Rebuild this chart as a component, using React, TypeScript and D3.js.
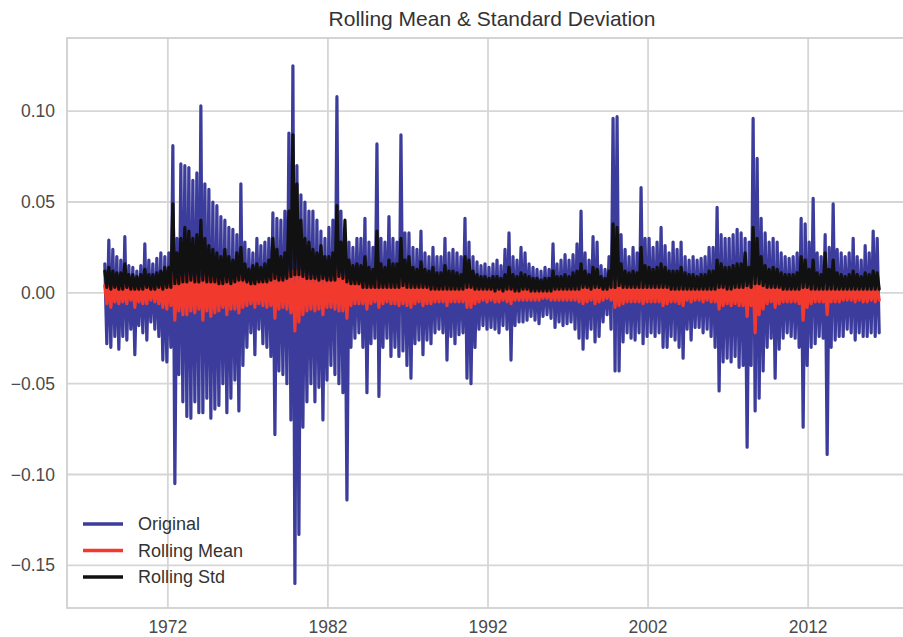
import React from "react";
import * as d3 from "d3";

// quarterly buckets starting 1968 Q1; each row = one year (Q1..Q4)
const startYear = 1968;
const xTicks = [1972, 1982, 1992, 2002, 2012];
const yTicks = [-0.15, -0.1, -0.05, 0, 0.05, 0.1];

// Original series: highest / lowest value seen in each quarter
const origHigh = [
  0.016, 0.029, 0.024, 0.02, // 1968
  0.018, 0.031, 0.015, 0.014,
  0.012, 0.015, 0.027, 0.018, // 1970
  0.016, 0.019, 0.022, 0.02,
  0.022, 0.081, 0.03, 0.071,
  0.07, 0.069, 0.062, 0.066,
  0.103, 0.06, 0.057, 0.05,
  0.048, 0.042, 0.04, 0.036,
  0.035, 0.032, 0.06, 0.028,
  0.024, 0.022, 0.03, 0.026,
  0.028, 0.03, 0.044, 0.041,
  0.04, 0.045, 0.088, 0.125,
  0.07, 0.054, 0.05, 0.045, // 1980
  0.045, 0.04, 0.034, 0.03,
  0.036, 0.04, 0.108, 0.045,
  0.03, 0.028, 0.025, 0.03,
  0.03, 0.041, 0.028, 0.025,
  0.082, 0.03, 0.028, 0.042,
  0.03, 0.028, 0.087, 0.033,
  0.033, 0.025, 0.024, 0.034,
  0.022, 0.02, 0.025, 0.02,
  0.02, 0.03, 0.022, 0.024,
  0.022, 0.02, 0.041, 0.028, // 1990
  0.02, 0.017, 0.015, 0.016,
  0.014, 0.016, 0.018, 0.015,
  0.024, 0.033, 0.02, 0.018,
  0.025, 0.022, 0.016, 0.014,
  0.013, 0.012, 0.014, 0.013,
  0.027, 0.016, 0.018, 0.021,
  0.018, 0.021, 0.027, 0.045,
  0.022, 0.018, 0.031, 0.028,
  0.015, 0.013, 0.02, 0.096,
  0.097, 0.032, 0.024, 0.02, // 2000
  0.025, 0.022, 0.058, 0.03,
  0.03, 0.025, 0.028, 0.036,
  0.026, 0.022, 0.028, 0.024,
  0.028, 0.02, 0.018, 0.02,
  0.018, 0.019, 0.02, 0.025,
  0.025, 0.047, 0.032, 0.03,
  0.03, 0.032, 0.035, 0.033,
  0.03, 0.028, 0.096, 0.074,
  0.041, 0.033, 0.028, 0.03,
  0.028, 0.022, 0.02, 0.019, // 2010
  0.02, 0.022, 0.041, 0.038,
  0.028, 0.052, 0.022, 0.02,
  0.032, 0.025, 0.049, 0.024,
  0.022, 0.02, 0.022, 0.03,
  0.02, 0.018, 0.026, 0.022,
  0.034, 0.03, // 2016
];
const origLow = [
  -0.028, -0.03, -0.024, -0.031, // 1968
  -0.024, -0.026, -0.02, -0.034,
  -0.018, -0.022, -0.026, -0.016, // 1970
  -0.02, -0.024, -0.037, -0.038,
  -0.03, -0.105, -0.045, -0.06,
  -0.068, -0.069, -0.06, -0.066,
  -0.066, -0.058, -0.069, -0.064,
  -0.062, -0.05, -0.066, -0.058,
  -0.048, -0.065, -0.04, -0.03,
  -0.022, -0.034, -0.02, -0.028,
  -0.03, -0.035, -0.078, -0.043,
  -0.045, -0.05, -0.07, -0.16,
  -0.133, -0.074, -0.06, -0.05, // 1980
  -0.06, -0.052, -0.07, -0.048,
  -0.04, -0.045, -0.05, -0.055,
  -0.114, -0.03, -0.025, -0.022,
  -0.03, -0.055, -0.028, -0.025,
  -0.057, -0.03, -0.025, -0.035,
  -0.03, -0.035, -0.032, -0.04,
  -0.047, -0.028, -0.026, -0.034,
  -0.026, -0.028, -0.022, -0.02,
  -0.022, -0.037, -0.024, -0.028,
  -0.023, -0.022, -0.047, -0.05, // 1990
  -0.03, -0.02, -0.018, -0.02,
  -0.019, -0.02, -0.022, -0.018,
  -0.02, -0.037, -0.018, -0.016,
  -0.016, -0.015, -0.013, -0.015,
  -0.017, -0.013, -0.012, -0.014,
  -0.019, -0.016, -0.018, -0.017,
  -0.016, -0.02, -0.025, -0.031,
  -0.025, -0.02, -0.027, -0.024,
  -0.016, -0.012, -0.02, -0.043,
  -0.043, -0.027, -0.022, -0.025, // 2000
  -0.026, -0.022, -0.028, -0.024,
  -0.022, -0.024, -0.022, -0.03,
  -0.03, -0.024, -0.026, -0.03,
  -0.036, -0.02, -0.026, -0.019,
  -0.019, -0.022, -0.02, -0.024,
  -0.03, -0.054, -0.038, -0.036,
  -0.038, -0.035, -0.041, -0.04,
  -0.085, -0.04, -0.065, -0.058,
  -0.043, -0.03, -0.025, -0.047,
  -0.031, -0.025, -0.022, -0.024, // 2010
  -0.025, -0.03, -0.074, -0.04,
  -0.03, -0.028, -0.024, -0.025,
  -0.089, -0.03, -0.026, -0.024,
  -0.024, -0.02, -0.022, -0.026,
  -0.022, -0.024, -0.024, -0.022,
  -0.024, -0.022, // 2016
];

// Rolling mean: quarterly high / low (two years per row)
const meanHigh = [
  0.004, 0.005, 0.004, 0.003, 0.003, 0.004, 0.005, 0.003, // 1968-69
  0.004, 0.003, 0.005, 0.004, 0.004, 0.005, 0.004, 0.005,
  0.008, 0.01, 0.008, 0.009, 0.009, 0.01, 0.008, 0.009,
  0.008, 0.01, 0.009, 0.01, 0.009, 0.008, 0.008, 0.008,
  0.008, 0.009, 0.009, 0.007, 0.007, 0.006, 0.007, 0.008,
  0.008, 0.009, 0.01, 0.009, 0.009, 0.008, 0.011, 0.012,
  0.012, 0.012, 0.01, 0.009, 0.009, 0.008, 0.009, 0.008, // 1980-81
  0.008, 0.009, 0.012, 0.01, 0.009, 0.008, 0.007, 0.007,
  0.005, 0.006, 0.005, 0.004, 0.006, 0.005, 0.004, 0.005,
  0.005, 0.006, 0.007, 0.005, 0.006, 0.005, 0.004, 0.006,
  0.004, 0.005, 0.004, 0.004, 0.004, 0.005, 0.004, 0.004,
  0.004, 0.004, 0.006, 0.005, 0.004, 0.004, 0.003, 0.003, // 1990-91
  0.003, 0.003, 0.003, 0.003, 0.004, 0.004, 0.003, 0.003,
  0.004, 0.003, 0.003, 0.003, 0.003, 0.003, 0.003, 0.003,
  0.004, 0.003, 0.003, 0.004, 0.003, 0.004, 0.004, 0.005,
  0.004, 0.004, 0.005, 0.004, 0.003, 0.003, 0.004, 0.006,
  0.006, 0.005, 0.004, 0.004, 0.004, 0.004, 0.006, 0.005, // 2000-01
  0.004, 0.005, 0.005, 0.005, 0.005, 0.004, 0.004, 0.004,
  0.004, 0.003, 0.003, 0.003, 0.003, 0.003, 0.003, 0.004,
  0.004, 0.005, 0.004, 0.004, 0.004, 0.004, 0.005, 0.005,
  0.005, 0.005, 0.007, 0.008, 0.007, 0.005, 0.005, 0.004,
  0.004, 0.004, 0.004, 0.003, 0.004, 0.004, 0.006, 0.005, // 2010-11
  0.004, 0.005, 0.004, 0.003, 0.004, 0.004, 0.005, 0.004,
  0.003, 0.003, 0.004, 0.004, 0.004, 0.003, 0.004, 0.004,
  0.004, 0.004,
];
const meanLow = [
  -0.006, -0.008, -0.005, -0.006, -0.005, -0.006, -0.004, -0.008, // 1968-69
  -0.005, -0.006, -0.006, -0.004, -0.005, -0.006, -0.008, -0.009,
  -0.007, -0.015, -0.01, -0.012, -0.012, -0.01, -0.011, -0.009,
  -0.015, -0.01, -0.013, -0.011, -0.01, -0.008, -0.012, -0.009,
  -0.009, -0.011, -0.008, -0.007, -0.006, -0.008, -0.006, -0.007,
  -0.008, -0.007, -0.014, -0.009, -0.008, -0.009, -0.011, -0.021,
  -0.016, -0.012, -0.01, -0.009, -0.01, -0.009, -0.012, -0.008, // 1980-81
  -0.008, -0.009, -0.01, -0.01, -0.014, -0.007, -0.006, -0.006,
  -0.006, -0.009, -0.006, -0.005, -0.008, -0.006, -0.005, -0.006,
  -0.006, -0.007, -0.006, -0.007, -0.008, -0.006, -0.005, -0.007,
  -0.006, -0.006, -0.005, -0.005, -0.005, -0.007, -0.005, -0.005,
  -0.005, -0.005, -0.008, -0.008, -0.006, -0.005, -0.004, -0.005, // 1990-91
  -0.004, -0.005, -0.005, -0.004, -0.005, -0.006, -0.004, -0.004,
  -0.004, -0.004, -0.004, -0.004, -0.004, -0.003, -0.003, -0.004,
  -0.004, -0.004, -0.004, -0.004, -0.004, -0.004, -0.005, -0.006,
  -0.005, -0.004, -0.006, -0.005, -0.004, -0.003, -0.004, -0.008,
  -0.007, -0.006, -0.005, -0.005, -0.005, -0.005, -0.006, -0.005, // 2000-01
  -0.005, -0.005, -0.005, -0.007, -0.006, -0.005, -0.005, -0.006,
  -0.007, -0.004, -0.005, -0.004, -0.004, -0.005, -0.004, -0.005,
  -0.005, -0.009, -0.007, -0.006, -0.007, -0.006, -0.007, -0.007,
  -0.013, -0.007, -0.022, -0.012, -0.009, -0.006, -0.005, -0.008,
  -0.006, -0.005, -0.005, -0.005, -0.005, -0.006, -0.015, -0.008, // 2010-11
  -0.006, -0.005, -0.005, -0.005, -0.012, -0.005, -0.005, -0.005,
  -0.004, -0.004, -0.004, -0.005, -0.004, -0.005, -0.005, -0.004,
  -0.005, -0.004,
];

// Rolling std: quarterly high / low (two years per row)
const stdHigh = [
  0.012, 0.014, 0.012, 0.011, 0.011, 0.016, 0.01, 0.01, // 1968-69
  0.009, 0.01, 0.013, 0.01, 0.01, 0.011, 0.012, 0.014,
  0.014, 0.049, 0.022, 0.03, 0.036, 0.034, 0.03, 0.032,
  0.04, 0.03, 0.026, 0.024, 0.022, 0.02, 0.024, 0.02,
  0.018, 0.022, 0.025, 0.016, 0.013, 0.015, 0.016, 0.014,
  0.016, 0.018, 0.03, 0.024, 0.02, 0.022, 0.045, 0.087,
  0.06, 0.04, 0.03, 0.028, 0.024, 0.022, 0.026, 0.02, // 1980-81
  0.02, 0.022, 0.048, 0.028, 0.04, 0.018, 0.015, 0.016,
  0.015, 0.02, 0.014, 0.013, 0.034, 0.016, 0.014, 0.018,
  0.016, 0.016, 0.03, 0.018, 0.02, 0.014, 0.013, 0.017,
  0.013, 0.012, 0.014, 0.011, 0.011, 0.015, 0.012, 0.012,
  0.011, 0.01, 0.02, 0.018, 0.012, 0.01, 0.009, 0.009, // 1990-91
  0.008, 0.009, 0.009, 0.008, 0.01, 0.014, 0.01, 0.009,
  0.011, 0.01, 0.009, 0.008, 0.008, 0.007, 0.008, 0.008,
  0.012, 0.009, 0.009, 0.01, 0.009, 0.011, 0.012, 0.016,
  0.012, 0.01, 0.014, 0.013, 0.009, 0.008, 0.012, 0.038,
  0.036, 0.016, 0.012, 0.011, 0.012, 0.011, 0.025, 0.015, // 2000-01
  0.014, 0.013, 0.014, 0.016, 0.014, 0.012, 0.012, 0.012,
  0.014, 0.011, 0.01, 0.01, 0.009, 0.01, 0.01, 0.012,
  0.012, 0.018, 0.016, 0.014, 0.014, 0.015, 0.016, 0.016,
  0.022, 0.014, 0.036, 0.03, 0.02, 0.015, 0.013, 0.014,
  0.013, 0.011, 0.01, 0.01, 0.01, 0.011, 0.02, 0.018, // 2010-11
  0.013, 0.018, 0.011, 0.01, 0.022, 0.013, 0.018, 0.011,
  0.01, 0.009, 0.01, 0.012, 0.01, 0.009, 0.011, 0.01,
  0.012, 0.011,
];
const stdLow = [
  0.003, 0.002, 0.003, 0.002, 0.002, 0.003, 0.002, 0.002, // 1968-69
  0.002, 0.002, 0.003, 0.002, 0.002, 0.003, 0.002, 0.003,
  0.003, 0.005, 0.005, 0.006, 0.006, 0.007, 0.006, 0.006,
  0.007, 0.006, 0.006, 0.006, 0.005, 0.005, 0.006, 0.005,
  0.006, 0.007, 0.007, 0.006, 0.005, 0.005, 0.006, 0.006,
  0.006, 0.007, 0.008, 0.007, 0.007, 0.008, 0.009, 0.01,
  0.01, 0.009, 0.008, 0.008, 0.008, 0.007, 0.008, 0.007, // 1980-81
  0.007, 0.007, 0.009, 0.008, 0.006, 0.005, 0.005, 0.005,
  0.003, 0.003, 0.003, 0.003, 0.003, 0.003, 0.003, 0.003,
  0.003, 0.003, 0.004, 0.003, 0.003, 0.003, 0.003, 0.003,
  0.003, 0.002, 0.002, 0.002, 0.002, 0.002, 0.002, 0.002,
  0.002, 0.002, 0.003, 0.003, 0.002, 0.002, 0.002, 0.002, // 1990-91
  0.002, 0.001, 0.002, 0.001, 0.002, 0.002, 0.001, 0.001,
  0.002, 0.002, 0.001, 0.001, 0.001, 0.001, 0.001, 0.001,
  0.002, 0.002, 0.002, 0.002, 0.002, 0.002, 0.002, 0.003,
  0.003, 0.002, 0.003, 0.003, 0.002, 0.002, 0.003, 0.003,
  0.004, 0.003, 0.003, 0.003, 0.003, 0.003, 0.003, 0.003, // 2000-01
  0.003, 0.003, 0.003, 0.003, 0.003, 0.002, 0.002, 0.002,
  0.002, 0.002, 0.002, 0.002, 0.002, 0.002, 0.002, 0.002,
  0.002, 0.003, 0.003, 0.002, 0.002, 0.003, 0.003, 0.003,
  0.004, 0.003, 0.005, 0.005, 0.004, 0.003, 0.003, 0.003,
  0.003, 0.002, 0.002, 0.002, 0.002, 0.002, 0.003, 0.003, // 2010-11
  0.002, 0.002, 0.002, 0.002, 0.002, 0.002, 0.002, 0.002,
  0.002, 0.002, 0.002, 0.002, 0.002, 0.002, 0.002, 0.002,
  0.002, 0.002,
];

const series = [
  { name: "Original", color: "#3c3c9c", hi: origHigh, lo: origLow },
  { name: "Rolling Mean", color: "#f2392d", hi: meanHigh, lo: meanLow },
  { name: "Rolling Std", color: "#111111", hi: stdHigh, lo: stdLow },
];

const W = 903;
const H = 637;
const top = 38;
const bottom = 608;
const left = 67;
const right = 917;
const font = "'Liberation Sans', Arial, sans-serif";

const x = d3.scaleLinear().domain([1965.7, 2018.8]).range([left, right]);
const y = d3.scaleLinear().domain([-0.1735, 0.1403]).range([bottom, top]);
const fmt = d3.format(".2f");

// hi then lo inside each quarter, so the line sweeps the whole range
const toPoints = (hi: number[], lo: number[]) =>
  hi.flatMap((h, i) => [
    [startYear + i * 0.25 + 0.0625, h] as [number, number],
    [startYear + i * 0.25 + 0.1875, lo[i]] as [number, number],
  ]);

const line = d3
  .line<[number, number]>()
  .x((d) => x(d[0]))
  .y((d) => y(d[1]));

const App = () => {
  return (
    <svg
      width={W}
      height={H}
      style={{ position: "absolute", left: 0, top: 0, background: "#fff" }}
      fontFamily={font}
    >
      <defs>
        <clipPath id="plot">
          <rect x={left} y={top} width={right - left} height={bottom - top} />
        </clipPath>
      </defs>
      <rect x={0} y={0} width={W} height={H} fill="#fff" />
      <text x={(left + right) / 2} y={26} textAnchor="middle" fontSize={21} fill="#333">
        Rolling Mean &amp; Standard Deviation
      </text>

      {/* grid */}
      {yTicks.map((t) => (
        <line key={"gy" + t} x1={left} x2={right} y1={y(t)} y2={y(t)} stroke="#d6d6d6" strokeWidth={1.8} />
      ))}
      {xTicks.map((t) => (
        <line key={"gx" + t} x1={x(t)} x2={x(t)} y1={top} y2={bottom} stroke="#d6d6d6" strokeWidth={1.8} />
      ))}
      <rect x={left} y={top} width={right - left} height={bottom - top} fill="none" stroke="#d0d0d0" strokeWidth={1.8} />

      {/* series */}
      <g clipPath="url(#plot)">
        {series.map((s) => (
          <path
            key={s.name}
            d={line(toPoints(s.hi, s.lo)) || ""}
            fill="none"
            stroke={s.color}
            strokeWidth={3.2}
            strokeLinejoin="round"
            strokeLinecap="round"
          />
        ))}
      </g>

      {/* tick labels */}
      {yTicks.map((t) => (
        <text key={"ty" + t} x={55} y={y(t)} dy="0.35em" textAnchor="end" fontSize={17.5} fill="#4a4a4a">
          {fmt(t)}
        </text>
      ))}
      {xTicks.map((t) => (
        <text key={"tx" + t} x={x(t)} y={633} textAnchor="middle" fontSize={17.5} fill="#4a4a4a">
          {t}
        </text>
      ))}

      {/* legend */}
      {series.map((s, i) => (
        <g key={"lg" + s.name} transform={`translate(83,${524 + i * 26.5})`}>
          <line x1={0} x2={40} y1={0} y2={0} stroke={s.color} strokeWidth={3.6} />
          <text x={55} y={0} dy="0.35em" fontSize={18} fill="#333">
            {s.name}
          </text>
        </g>
      ))}
    </svg>
  );
};

export default App;
